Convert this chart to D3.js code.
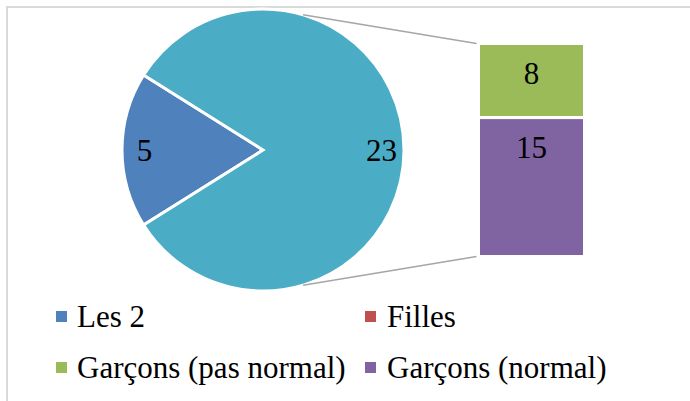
<!DOCTYPE html>
<html>
<head>
<meta charset="utf-8">
<script src="https://cdn.jsdelivr.net/npm/d3@7"></script>
<style>
  html, body { margin: 0; padding: 0; background: #fff; }
  svg { display: block; }
  text { font-family: "Liberation Serif", "Times New Roman", serif; fill: #000; }
</style>
</head>
<body>
<div id="chart"></div>
<script>
// ---- data ----
const categories = ["Les 2", "Filles", "Garçons (pas normal)", "Garçons (normal)"];
const values = [5, 0, 8, 15];
const colors = ["#4F81BD", "#C0504D", "#9BBB59", "#8064A2"];
const otherColor = "#4BACC6";
// pie shows first two categories + combined "other" (the last two, shown as bar)
const pieIdx = [0, 1];
const barIdx = [2, 3];

const W = 690, H = 401;
const svg = d3.select("#chart").append("svg").attr("width", W).attr("height", H);

// chart area border
svg.append("rect").attr("x", 7).attr("y", 7).attr("width", 720).attr("height", 420)
  .attr("fill", "#fff").attr("stroke", "#D9D9D9").attr("stroke-width", 2);

// ---- pie ----
const cx = 263, cy = 150, r = 141;
const otherSum = d3.sum(barIdx.map(i => values[i]));
const pieData = pieIdx.map(i => ({ name: categories[i], value: values[i], color: colors[i] }))
  .concat([{ name: "other", value: otherSum, color: otherColor }]);
const total = d3.sum(pieData, d => d.value);
const firstFrac = pieData[0].value / total;
const start = 1.5 * Math.PI - firstFrac * Math.PI;
const pie = d3.pie().sort(null).value(d => d.value).startAngle(start).endAngle(start + 2 * Math.PI);
const arcs = pie(pieData);
const arc = d3.arc().innerRadius(0).outerRadius(r);
const labelArc = d3.arc().innerRadius(r * 0.84).outerRadius(r * 0.84);

const gPie = svg.append("g").attr("transform", `translate(${cx},${cy})`);

// connector lines (from pie edge to bar)
const barX0 = 478.5, barX1 = 584.5, barY0 = 43.5, barY1 = 256.5;
const connAngle = 16.5 * Math.PI / 180;
const px = cx + r * Math.sin(connAngle);
const pyTop = cy - r * Math.cos(connAngle);
const pyBot = cy + r * Math.cos(connAngle);
svg.append("line").attr("x1", px).attr("y1", pyTop).attr("x2", barX0 - 2).attr("y2", barY0)
  .attr("stroke", "#A6A6A6").attr("stroke-width", 1.6);
svg.append("line").attr("x1", px).attr("y1", pyBot).attr("x2", barX0 - 2).attr("y2", barY1)
  .attr("stroke", "#A6A6A6").attr("stroke-width", 1.6);

gPie.selectAll("path").data(arcs.filter(d => d.value > 0)).join("path")
  .attr("d", arc).attr("fill", d => d.data.color)
  .attr("stroke", "#fff").attr("stroke-width", 3).attr("stroke-linejoin", "miter");

gPie.selectAll("text").data(arcs.filter(d => d.value > 0)).join("text")
  .attr("x", d => labelArc.centroid(d)[0])
  .attr("y", d => labelArc.centroid(d)[1] + 11)
  .attr("text-anchor", "middle")
  .attr("font-size", 31)
  .text(d => d.value);

// ---- bar (stacked) ----
const yBar = d3.scaleLinear().domain([0, otherSum]).range([barY0, barY1]);
let acc = 0;
const barData = barIdx.map(i => {
  const d = { name: categories[i], value: values[i], color: colors[i], y0: acc, y1: acc + values[i] };
  acc += values[i];
  return d;
});
const gBar = svg.append("g");
gBar.selectAll("rect").data(barData).join("rect")
  .attr("x", barX0).attr("width", barX1 - barX0)
  .attr("y", d => yBar(d.y0)).attr("height", d => yBar(d.y1) - yBar(d.y0))
  .attr("fill", d => d.color).attr("stroke", "#fff").attr("stroke-width", 3);
gBar.selectAll("text").data(barData).join("text")
  .attr("x", (barX0 + barX1) / 2)
  .attr("y", d => yBar(d.y0) + 40)
  .attr("text-anchor", "middle")
  .attr("font-size", 31)
  .text(d => d.value);

// ---- legend ----
const legendPos = [
  { mx: 56, tx: 77, y: 327 },
  { mx: 365, tx: 387, y: 327 },
  { mx: 56, tx: 77, y: 378 },
  { mx: 365, tx: 387, y: 378 }
];
const gLeg = svg.append("g");
categories.forEach((c, i) => {
  const p = legendPos[i];
  gLeg.append("rect").attr("x", p.mx).attr("y", p.y - 16).attr("width", 11).attr("height", 11)
    .attr("fill", colors[i]);
  gLeg.append("text").attr("x", p.tx).attr("y", p.y).attr("font-size", 31).text(c);
});
</script>
</body>
</html>
